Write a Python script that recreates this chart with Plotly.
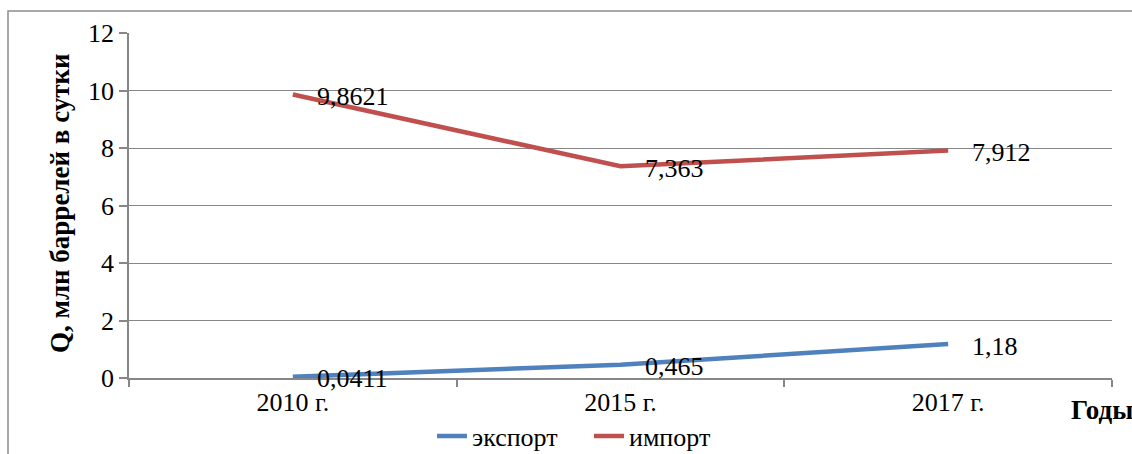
import plotly.graph_objects as go

# Years and daily volumes (million barrels per day)
years = ["2010 г.", "2015 г.", "2017 г."]
export_vals = [0.0411, 0.465, 1.18]
import_vals = [9.8621, 7.363, 7.912]
export_labels = ["0,0411", "0,465", "1,18"]
import_labels = ["9,8621", "7,363", "7,912"]
y_ticks = [0, 2, 4, 6, 8, 10, 12]

FONT = "Liberation Serif, Times New Roman, serif"
BLUE = "#4F81BD"
RED = "#C0504D"
GRID = "#878787"

W, H = 1132, 454
L, R, T, B = 129, 20, 33, 76
PW, PH = W - L - R, H - T - B


def px_x(px):
    return (px - L) / PW


def px_y(py):
    return (H - B - py) / PH


fig = go.Figure()
fig.add_trace(go.Scatter(x=years, y=export_vals, mode="lines", name="экспорт",
                         line=dict(color=BLUE, width=4.5)))
fig.add_trace(go.Scatter(x=years, y=import_vals, mode="lines", name="импорт",
                         line=dict(color=RED, width=4.5)))

annotations = []
for vals, labels in ((export_vals, export_labels), (import_vals, import_labels)):
    for xv, yv, lab in zip(years, vals, labels):
        annotations.append(dict(x=xv, y=yv, text=lab, showarrow=False,
                                xanchor="left", yanchor="middle", xshift=22, yshift=-2,
                                font=dict(family=FONT, size=26, color="black")))

annotations.append(dict(xref="paper", yref="paper", x=px_x(1069), y=px_y(410),
                        text="<b>Годы</b>", showarrow=False, xanchor="left", yanchor="middle",
                        font=dict(family=FONT, size=27, color="black")))
annotations.append(dict(xref="paper", yref="paper", x=px_x(60), y=px_y(203),
                        text="<b>Q, млн баррелей в сутки</b>", showarrow=False, textangle=-90,
                        xanchor="center", yanchor="middle",
                        font=dict(family=FONT, size=27, color="black")))

fig.update_layout(
    width=W, height=H,
    margin=dict(l=L, r=R, t=T, b=B),
    paper_bgcolor="white", plot_bgcolor="white",
    font=dict(family=FONT, size=26, color="black"),
    showlegend=True,
    legend=dict(orientation="h", x=589 / W, xanchor="center", xref="container",
                y=1 - 436 / H, yanchor="middle", yref="container",
                font=dict(family=FONT, size=26, color="black"), bgcolor="rgba(0,0,0,0)",
                entrywidth=112, entrywidthmode="pixels", tracegroupgap=0),
    annotations=annotations,
    shapes=[dict(type="rect", xref="paper", yref="paper",
                 x0=px_x(8), x1=px_x(1140), y0=px_y(470), y1=px_y(11),
                 line=dict(color="#8c8c8c", width=1.5), layer="below")],
)

fig.update_xaxes(type="category", range=[-0.5, 2.5], showline=True, linecolor=GRID, linewidth=1.5,
                 ticks="outside", tickson="boundaries", ticklen=7, tickcolor=GRID, tickwidth=1.5,
                 showgrid=False, tickfont=dict(family=FONT, size=26), zeroline=False,
                 automargin=False)
fig.update_yaxes(range=[0, 12], tickvals=y_ticks, showline=True, linecolor=GRID, linewidth=1.5,
                 ticks="outside", ticklen=8, tickcolor=GRID, tickwidth=1.5,
                 showgrid=True, gridcolor=GRID, gridwidth=1.2, zeroline=False,
                 tickfont=dict(family=FONT, size=26), automargin=False)

fig.write_html("out.html")
